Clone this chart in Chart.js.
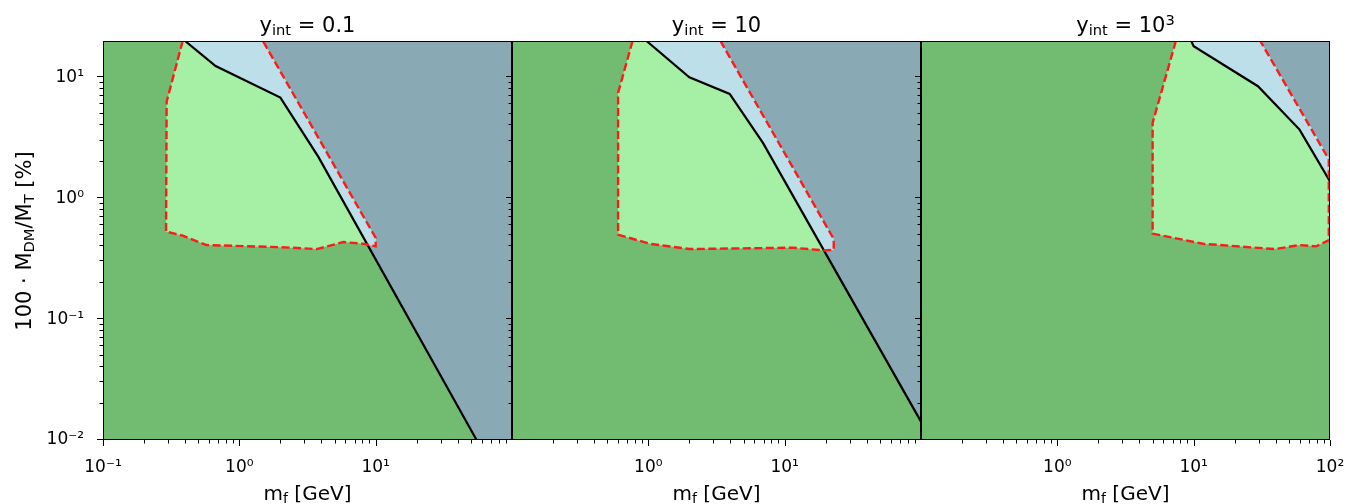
<!DOCTYPE html>
<html>
<head>
<meta charset="utf-8">
<script src="https://cdn.jsdelivr.net/npm/chart.js@4.4.1/dist/chart.umd.min.js"></script>
<style>
  body { margin: 0; background: #fff; font-family: "DejaVu Sans", sans-serif; color: #000; }
  #wrap { position: relative; width: 1360px; height: 504px; overflow: hidden; }
  #wrap canvas { position: absolute; top: 0; }
  .lbl { position: absolute; font-size: 20px; line-height: 20px; white-space: nowrap; text-align: center; }
  .ttl { font-size: 21px; }
  .ylab { font-size: 21px; }
  .sub { font-size: 70%; position: relative; top: 0.22em; }
  .sup { font-size: 70%; position: relative; top: -0.45em; }
</style>
</head>
<body>
<div id="wrap"></div>
<script>
// axis ranges (log-log)
const X_MIN = 0.1, X_MAX = 100;
const Y_MIN = 0.01, Y_MAX = 20;

// tick labels
const yTicks = [0.01, 0.1, 1, 10];
const xTicksP1 = [0.1, 1, 10];
const xTicksP2 = [1, 10];
const xTicksP3 = [1, 10, 100];

// panel 1: y_int = 0.1
const p1BlackX = [0.4, 0.67, 2.0, 3.8, 55];
const p1BlackY = [20, 12.4, 6.8, 2.2, 0.01];
const p1RedX = [0.384, 0.293, 0.29, 0.385, 0.575, 2.0, 3.7, 5.8, 8.1, 10, 10, 1.49];
const p1RedY = [20, 6.3, 0.53, 0.49, 0.41, 0.394, 0.38, 0.434, 0.42, 0.40, 0.47, 20];
const p1BlueX = [0.4, 0.67, 2.0, 3.8, 8.65, 10, 10, 1.49];
const p1BlueY = [20, 12.4, 6.8, 2.2, 0.416, 0.40, 0.47, 20];

// panel 2: y_int = 10
const p2BlackX = [0.97, 2.0, 3.95, 6.93, 100];
const p2BlackY = [20, 10, 7.3, 2.87, 0.0142];
const p2RedX = [0.766, 0.6, 0.6, 1.03, 2.0, 11.5, 19.5, 22.9, 22.9, 3.38];
const p2RedY = [20, 7.45, 0.50, 0.42, 0.38, 0.39, 0.37, 0.375, 0.46, 20];
const p2BlueX = [0.97, 2.0, 3.95, 6.93, 19.3, 22.9, 22.9, 3.38];
const p2BlueY = [20, 10, 7.3, 2.87, 0.372, 0.375, 0.46, 20];

// panel 3: y_int = 10^3
const p3BlackX = [9.6, 10, 29.6, 59.8, 100];
const p3BlackY = [20, 18.1, 8.45, 3.7, 1.38];
const p3RedX = [7.4, 5.0, 5.0, 11.7, 39.2, 60, 79, 98, 98, 30.8];
const p3RedY = [20, 4.2, 0.51, 0.42, 0.38, 0.41, 0.40, 0.45, 2.1, 20];
const p3BlueX = [9.6, 10, 29.6, 59.8, 100, 100, 30.8];
const p3BlueY = [20, 18.1, 8.45, 3.7, 1.38, 2.1, 20];

const GREEN = '#72bc72';
const GREY_BLUE = '#89aab4';
const LIGHT_GREEN = '#a6f0a6';
const LIGHT_BLUE = '#bddfe9';
const RED = '#ff1a1a';

const panels = [
  { left: 103, title: 'y<span class="sub">int</span> = 0.1', xTicks: xTicksP1, yLabels: true,
    blackX: p1BlackX, blackY: p1BlackY, redX: p1RedX, redY: p1RedY, blueX: p1BlueX, blueY: p1BlueY },
  { left: 512, title: 'y<span class="sub">int</span> = 10', xTicks: xTicksP2, yLabels: false,
    blackX: p2BlackX, blackY: p2BlackY, redX: p2RedX, redY: p2RedY, blueX: p2BlueX, blueY: p2BlueY },
  { left: 921, title: 'y<span class="sub">int</span> = 10<span class="sup">3</span>', xTicks: xTicksP3, yLabels: false,
    blackX: p3BlackX, blackY: p3BlackY, redX: p3RedX, redY: p3RedY, blueX: p3BlueX, blueY: p3BlueY },
];

const PANEL_W = 409;
const AXIS_W = 103;

const SUP = { '-': '⁻', '0': '⁰', '1': '¹', '2': '²', '3': '³' };
const powLabel = (v) => '10' + String(Math.round(Math.log10(v))).split('').map((c) => SUP[c]).join('');

const minorValues = (lo, hi) => {
  const out = [];
  for (let e = -3; e <= 2; e++) {
    for (let k = 2; k <= 9; k++) {
      const v = k * Math.pow(10, e);
      if (v > lo * 1.0001 && v < hi * 0.9999) out.push(v);
    }
  }
  return out;
};

// green background, frame and matplotlib-like tick marks
const framePlugin = {
  id: 'framePlugin',
  beforeDraw(chart) {
    const { ctx, chartArea: a } = chart;
    ctx.save();
    ctx.fillStyle = GREEN;
    ctx.fillRect(a.left, a.top, a.right - a.left, a.bottom - a.top);
    ctx.restore();
  },
  afterDraw(chart) {
    const { ctx, chartArea: a, scales } = chart;
    const xMajor = chart.options.plugins.framePlugin.xTicks;
    ctx.save();
    ctx.strokeStyle = '#000';
    ctx.lineWidth = 1;
    ctx.beginPath();
    const xTick = (v, len) => {
      const px = Math.round(scales.x.getPixelForValue(v)) + 0.5;
      ctx.moveTo(px, a.bottom);
      ctx.lineTo(px, a.bottom + len);
    };
    const yTick = (v, len) => {
      const py = Math.round(scales.y.getPixelForValue(v)) - 0.5;
      ctx.moveTo(a.left, py);
      ctx.lineTo(a.left - len, py);
    };
    xMajor.forEach((v) => xTick(v, 6));
    minorValues(X_MIN, X_MAX).forEach((v) => xTick(v, 3.5));
    yTicks.forEach((v) => yTick(v, 6));
    minorValues(Y_MIN, Y_MAX).forEach((v) => yTick(v, 3.5));
    ctx.stroke();
    ctx.strokeRect(a.left + 0.5, a.top + 0.5, a.right - a.left - 1, a.bottom - a.top - 1);
    ctx.restore();
  },
};

const line = (xs, ys, style) => ({
  data: xs.map((x, i) => ({ x, y: ys[i] })),
  showLine: true,
  pointRadius: 0,
  pointHoverRadius: 0,
  tension: 0,
  borderColor: 'transparent',
  borderWidth: 0,
  ...style,
});

const wrap = document.getElementById('wrap');
const tickFont = { family: '"DejaVu Sans", sans-serif', size: 17 };

panels.forEach((p) => {
  const canvas = document.createElement('canvas');
  canvas.width = AXIS_W + PANEL_W + 14;
  canvas.height = 504;
  canvas.style.left = (p.left - AXIS_W) + 'px';
  canvas.style.width = canvas.width + 'px';
  canvas.style.height = '504px';
  wrap.appendChild(canvas);

  new Chart(canvas, {
    type: 'scatter',
    data: {
      datasets: [
        line(p.redX, p.redY, { borderColor: RED, borderWidth: 2.4, borderDash: [8, 3.5], fill: false }),
        line(p.blackX, p.blackY, { borderColor: '#000', borderWidth: 2.2, fill: false }),
        line(p.blueX, p.blueY, { backgroundColor: LIGHT_BLUE, fill: 'shape' }),
        line(p.redX, p.redY, { backgroundColor: LIGHT_GREEN, fill: 'shape' }),
        line([...p.blackX, X_MAX, X_MAX], [...p.blackY, Y_MIN, Y_MAX], { backgroundColor: GREY_BLUE, fill: 'shape' }),
      ],
    },
    options: {
      responsive: false,
      animation: false,
      devicePixelRatio: 1,
      layout: { padding: { top: 41, right: 14, bottom: 0, left: 0 } },
      plugins: {
        legend: { display: false },
        tooltip: { enabled: false },
        framePlugin: { xTicks: p.xTicks },
      },
      scales: {
        x: {
          type: 'logarithmic',
          min: X_MIN,
          max: X_MAX,
          grid: { display: false },
          border: { display: false },
          afterBuildTicks: (s) => { s.ticks = p.xTicks.map((v) => ({ value: v })); },
          afterFit: (s) => { s.height = 64; s.paddingLeft = 0; s.paddingRight = 0; },
          ticks: { callback: powLabel, font: tickFont, color: '#000', padding: 9, maxRotation: 0, autoSkip: false },
        },
        y: {
          type: 'logarithmic',
          min: Y_MIN,
          max: Y_MAX,
          grid: { display: false },
          border: { display: false },
          afterBuildTicks: (s) => { s.ticks = yTicks.map((v) => ({ value: v })); },
          afterFit: (s) => { s.width = AXIS_W; s.paddingTop = 0; s.paddingBottom = 0; },
          ticks: { display: p.yLabels, callback: powLabel, font: tickFont, color: '#000', padding: 11, autoSkip: false },
        },
      },
    },
    plugins: [framePlugin],
  });

  const title = document.createElement('div');
  title.className = 'lbl ttl';
  title.innerHTML = p.title;
  title.style.left = (p.left) + 'px';
  title.style.width = PANEL_W + 'px';
  title.style.top = '15px';
  wrap.appendChild(title);

  const xl = document.createElement('div');
  xl.className = 'lbl';
  xl.innerHTML = 'm<span class="sub">f</span> [GeV]';
  xl.style.left = (p.left) + 'px';
  xl.style.width = PANEL_W + 'px';
  xl.style.top = '483px';
  wrap.appendChild(xl);
});

const yl = document.createElement('div');
yl.className = 'lbl ylab';
yl.innerHTML = '100 · M<span class="sub">DM</span>/M<span class="sub">T</span> [%]';
yl.style.width = '300px';
yl.style.left = (25 - 150) + 'px';
yl.style.top = (240 - 10) + 'px';
yl.style.transform = 'rotate(-90deg)';
wrap.appendChild(yl);
</script>
</body>
</html>
